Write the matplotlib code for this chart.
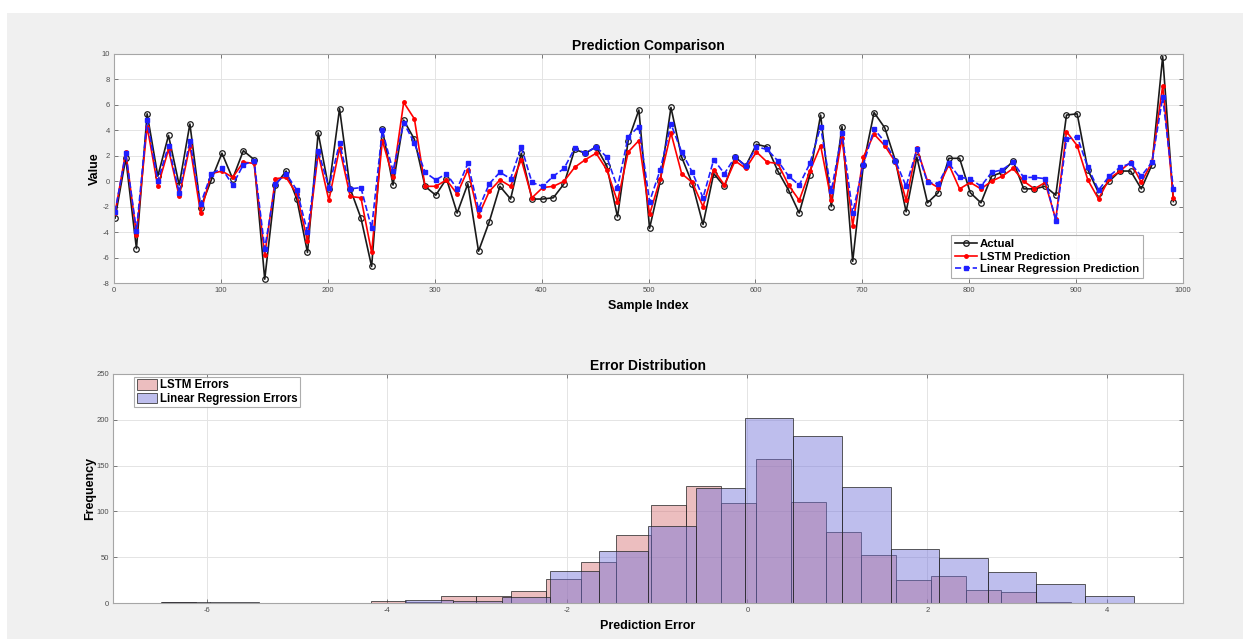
import matplotlib
matplotlib.use("Agg")
import matplotlib.pyplot as plt
import numpy as np
from matplotlib.patches import Rectangle, Patch

plt.rcParams["font.family"] = ["Liberation Sans", "DejaVu Sans"]
plt.rcParams["axes.unicode_minus"] = False

# ---- data: prediction comparison (every 10th sample) ----
sample_idx = np.arange(1, 1000, 10)
actual = [
    -2.9, 1.8, -5.3, 5.3, 0.4, 3.6, -0.3, 4.5, -2.1, 0.1,
    2.2, 0.2, 2.4, 1.7, -7.7, -0.3, 0.8, -1.4, -5.6, 3.8,
    -0.6, 5.7, -0.6, -2.9, -6.7, 4.1, -0.3, 4.8, 3.3, -0.4,
    -1.1, 0.2, -2.5, -0.2, -5.5, -3.2, -0.4, -1.4, 2.2, -1.4,
    -1.4, -1.3, -0.2, 2.5, 2.2, 2.7, 1.2, -2.8, 3.2, 5.6,
    -3.7, 0.0, 5.8, 1.9, -0.2, -3.4, 0.6, -0.4, 1.9, 1.2,
    2.9, 2.7, 0.8, -0.7, -2.5, 0.5, 5.2, -2.0, 4.3, -6.3,
    1.3, 5.4, 4.2, 1.6, -2.4, 1.9, -1.7, -0.9, 1.8, 1.8,
    -0.9, -1.7, 0.4, 0.7, 1.6, -0.6, -0.6, -0.4, -1.1, 5.2,
    5.3, 0.9, -0.9, 0.0, 0.8, 0.8, -0.6, 1.3, 9.8, -1.6,
]
lstm_pred = [
    -2.5, 2.3, -4.2, 4.3, -0.4, 2.5, -1.2, 2.8, -2.5, 0.6,
    0.8, 0.3, 1.5, 1.4, -5.8, 0.2, 0.3, -1.0, -4.7, 2.2,
    -1.5, 2.6, -1.2, -1.3, -5.6, 3.2, 0.3, 6.2, 4.9, -0.4,
    -0.4, 0.1, -1.0, 0.9, -2.7, -0.8, 0.1, -0.4, 1.7, -1.3,
    -0.5, -0.4, 0.0, 1.1, 1.7, 2.2, 0.9, -1.6, 2.3, 3.2,
    -2.6, 0.2, 3.8, 0.6, -0.1, -2.0, 0.9, -0.3, 1.6, 1.0,
    2.3, 1.5, 1.4, -0.3, -1.5, 0.8, 2.8, -1.5, 3.4, -3.5,
    1.9, 3.7, 2.8, 1.5, -1.5, 2.6, 0.0, -0.5, 1.3, -0.6,
    -0.1, -0.6, 0.0, 0.4, 1.0, 0.0, -0.6, -0.1, -3.0, 3.9,
    2.8, 0.1, -1.4, 0.2, 0.8, 1.5, -0.1, 1.5, 7.5, -1.3,
]
lr_pred = [
    -2.4, 2.2, -3.9, 4.8, 0.0, 2.8, -0.9, 3.2, -1.8, 0.6,
    1.0, -0.3, 1.3, 1.6, -5.3, -0.2, 0.6, -0.7, -4.0, 2.4,
    -0.5, 3.0, -0.6, -0.5, -3.7, 4.0, 0.8, 4.6, 3.0, 0.7,
    0.1, 0.6, -0.6, 1.4, -2.2, -0.2, 0.7, 0.2, 2.7, -0.1,
    -0.4, 0.4, 1.0, 2.6, 2.2, 2.7, 1.9, -0.5, 3.5, 4.3,
    -1.6, 0.9, 4.5, 2.3, 0.7, -1.3, 1.7, 0.6, 1.9, 1.2,
    2.7, 2.5, 1.6, 0.4, -0.3, 1.4, 4.3, -0.8, 3.8, -2.5,
    1.3, 4.1, 3.1, 1.6, -0.4, 2.5, -0.1, -0.2, 1.4, 0.3,
    0.2, -0.4, 0.7, 0.9, 1.5, 0.3, 0.3, 0.2, -3.1, 3.3,
    3.5, 1.1, -0.7, 0.4, 1.1, 1.4, 0.4, 1.5, 6.6, -0.6,
]

# ---- data: error histograms (bin start, bin width, counts) ----
lstm_bin_start, lstm_bin_width = -6.52, 0.389
lstm_counts = [1, 0, 0, 0, 0, 0, 2, 1, 8, 8, 13, 26, 45, 74, 107, 128,
               109, 157, 110, 77, 52, 25, 30, 14, 12, 1]
lr_bin_start, lr_bin_width = -6.51, 0.54
lr_counts = [1, 1, 0, 0, 0, 3, 2, 7, 35, 57, 84, 126, 202, 182, 127,
             59, 49, 34, 21, 8]

lstm_edges = lstm_bin_start + lstm_bin_width * np.arange(len(lstm_counts) + 1)
lr_edges = lr_bin_start + lr_bin_width * np.arange(len(lr_counts) + 1)

W, H = 1249, 639
fig = plt.figure(figsize=(W / 100, H / 100), dpi=100)
fig.patch.set_facecolor("white")
fig.add_artist(Rectangle((7 / W, 0), (W - 13) / W, (H - 13) / H,
                         transform=fig.transFigure, facecolor="#f0f0f0",
                         edgecolor="none", zorder=-10))

SPINE = "#a6a6a6"
TICKC = "#4d4d4d"


def style_axes(ax):
    ax.set_facecolor("white")
    for s in ax.spines.values():
        s.set_color(SPINE)
        s.set_linewidth(0.8)
    ax.tick_params(direction="in", top=True, right=True, length=3,
                   width=0.6, color="#666666", labelsize=5.5,
                   labelcolor=TICKC, pad=3)
    ax.grid(True, color="#e4e4e4", lw=0.7)
    ax.set_axisbelow(True)


# ---- top: prediction comparison ----
ax1 = fig.add_axes([114 / W, 1 - 283 / H, 1069 / W, 229 / H])
style_axes(ax1)
ax1.plot(sample_idx, actual, "-o", color="#1a1a1a", lw=1.2, ms=4,
         mfc="none", mew=0.9, label="Actual")
ax1.plot(sample_idx, lstm_pred, "-", color="red", lw=1.2, marker=".",
         ms=5, label="LSTM Prediction")
ax1.plot(sample_idx, lr_pred, "--", color="#1f1fff", lw=1.2, marker="s",
         ms=2.6, label="Linear Regression Prediction")
ax1.set_xlim(0, 1000)
ax1.set_ylim(-8, 10)
ax1.set_xticks(np.arange(0, 1001, 100))
ax1.set_yticks(np.arange(-8, 11, 2))
ax1.set_title("Prediction Comparison", fontsize=10, fontweight="bold", pad=3)
ax1.set_xlabel("Sample Index", fontsize=9, fontweight="bold", labelpad=4)
ax1.set_ylabel("Value", fontsize=9, fontweight="bold", labelpad=0.5)
leg1 = ax1.legend(loc="lower right", bbox_to_anchor=(0.963, 0.022),
                  prop={"weight": "bold", "size": 8.2},
                  frameon=True, fancybox=False, edgecolor="#999999",
                  handlelength=2.0, borderpad=0.35, labelspacing=0.2,
                  handletextpad=0.25, borderaxespad=0.0)
leg1.get_frame().set_linewidth(0.8)

# ---- bottom: error distribution ----
ax2 = fig.add_axes([113 / W, 1 - 603 / H, 1070 / W, 229 / H])
style_axes(ax2)
lstm_face = (0.84, 0.44, 0.45, 0.45)
lr_face = (0.44, 0.44, 0.85, 0.45)
edge = (0.15, 0.15, 0.15, 0.75)
ax2.bar(lstm_edges[:-1], lstm_counts, width=lstm_bin_width, align="edge",
        facecolor=lstm_face, edgecolor=edge, linewidth=0.7)
ax2.bar(lr_edges[:-1], lr_counts, width=lr_bin_width, align="edge",
        facecolor=lr_face, edgecolor=edge, linewidth=0.7)
ax2.set_xlim(-7.05, 4.84)
ax2.set_ylim(0, 250)
ax2.set_xticks([-6, -4, -2, 0, 2, 4])
ax2.set_yticks(np.arange(0, 251, 50))
ax2.set_title("Error Distribution", fontsize=10, fontweight="bold", pad=3)
ax2.set_xlabel("Prediction Error", fontsize=9, fontweight="bold", labelpad=4)
ax2.set_ylabel("Frequency", fontsize=9, fontweight="bold", labelpad=0)
handles = [Patch(facecolor=lstm_face, edgecolor=edge, lw=0.7),
           Patch(facecolor=lr_face, edgecolor=edge, lw=0.7)]
leg2 = ax2.legend(handles, ["LSTM Errors", "Linear Regression Errors"],
                  loc="upper left", bbox_to_anchor=(0.02, 0.987),
                  prop={"weight": "bold", "size": 8.3}, frameon=True,
                  fancybox=False, edgecolor="#999999", handlelength=1.8,
                  handleheight=1.0, borderpad=0.2, labelspacing=0.1,
                  handletextpad=0.2, borderaxespad=0.0)
leg2.get_frame().set_linewidth(0.8)

fig.savefig("out.png", dpi=100)
